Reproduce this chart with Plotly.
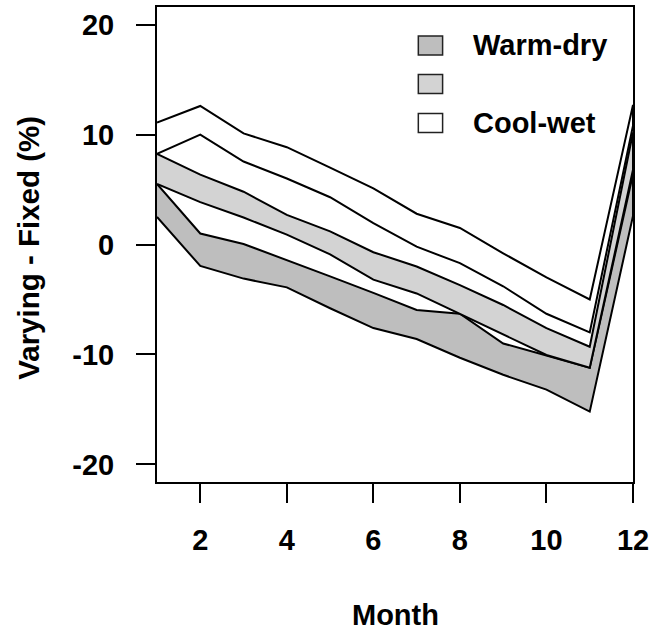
import plotly.graph_objects as go

months = [1, 2, 3, 4, 5, 6, 7, 8, 9, 10, 11, 12]

cool_hi = [11.1, 12.6, 10.1, 8.85, 7.0, 5.1, 2.8, 1.5, -0.8, -3.0, -5.0, 12.7]
cool_lo = [8.25, 10.0, 7.55, 6.0, 4.3, 1.95, -0.2, -1.7, -3.8, -6.3, -8.0, 10.8]
mid_hi = [8.25, 6.35, 4.8, 2.7, 1.2, -0.7, -2.0, -3.7, -5.5, -7.6, -9.3, 10.2]
mid_lo = [5.5, 3.85, 2.45, 0.9, -0.9, -3.2, -4.45, -6.3, -8.2, -10.05, -11.2, 6.8]
warm_hi = [5.5, 1.0, 0.05, -1.4, -2.9, -4.4, -5.95, -6.3, -9.0, -10.1, -11.2, 6.4]
warm_lo = [2.5, -1.95, -3.1, -3.9, -5.8, -7.6, -8.6, -10.3, -11.85, -13.2, -15.2, 2.6]

legend_labels = ["Warm-dry", "", "Cool-wet"]
fills = ["#bebebe", "#d3d3d3", "#ffffff"]

x_ticks = [2, 4, 6, 8, 10, 12]
y_ticks = [-20, -10, 0, 10, 20]

FONT = "Liberation Sans, Arial, Helvetica, sans-serif"

fig = go.Figure()
bands = [(warm_hi, warm_lo), (mid_hi, mid_lo), (cool_hi, cool_lo)]
for (hi, lo), col, name in zip(bands, fills, legend_labels):
    fig.add_trace(go.Scatter(
        x=months + months[::-1],
        y=hi + lo[::-1],
        fill="toself", fillcolor=col,
        mode="lines", line=dict(color="black", width=2),
        name=name or "Middle", showlegend=False, hoverinfo="skip",
    ))

# manual legend (R-style)
box_y = [(0.939, 0.899), (0.858, 0.818), (0.776, 0.736)]
for (y1, y0), col, lab in zip(box_y, fills, legend_labels):
    fig.add_shape(type="rect", xref="paper", yref="paper",
                  x0=0.549, x1=0.600, y0=y0, y1=y1,
                  fillcolor=col, line=dict(color="#222222", width=1.5))
    if lab:
        fig.add_annotation(xref="paper", yref="paper", x=0.660, y=(y0 + y1) / 2,
                           text=lab, showarrow=False, xanchor="left", yanchor="middle",
                           font=dict(family=FONT, size=29, color="black", weight="bold"))

fig.add_annotation(xref="paper", yref="paper", x=0.5, y=-0.279, text="Month",
                   showarrow=False, xanchor="center", yanchor="middle",
                   font=dict(family=FONT, size=29, color="black", weight="bold"))
fig.add_annotation(xref="paper", yref="paper", x=-0.270, y=0.494, text="Varying - Fixed (%)",
                   textangle=-90, showarrow=False, xanchor="center", yanchor="middle",
                   font=dict(family=FONT, size=29.5, color="black", weight="bold"))

fig.update_xaxes(range=[1, 12], tickvals=x_ticks, ticktext=[str(v) for v in x_ticks],
                 ticks="outside", ticklen=19, tickwidth=2, tickcolor="black",
                 showline=True, linecolor="black", linewidth=2, mirror=True,
                 showgrid=False, zeroline=False, ticklabelstandoff=12,
                 tickfont=dict(family=FONT, size=29, color="black", weight="bold"))
fig.update_yaxes(range=[-21.6, 21.6], tickvals=y_ticks, ticktext=[str(v) for v in y_ticks],
                 ticks="outside", ticklen=19, tickwidth=2, tickcolor="black",
                 showline=True, linecolor="black", linewidth=2, mirror=True,
                 showgrid=False, zeroline=False, ticklabelstandoff=16,
                 tickfont=dict(family=FONT, size=29, color="black", weight="bold"))

fig.update_layout(width=654, height=637, margin=dict(l=157, r=20, t=5, b=155),
                  plot_bgcolor="white", paper_bgcolor="white", showlegend=False)

fig.write_html("out.html")
